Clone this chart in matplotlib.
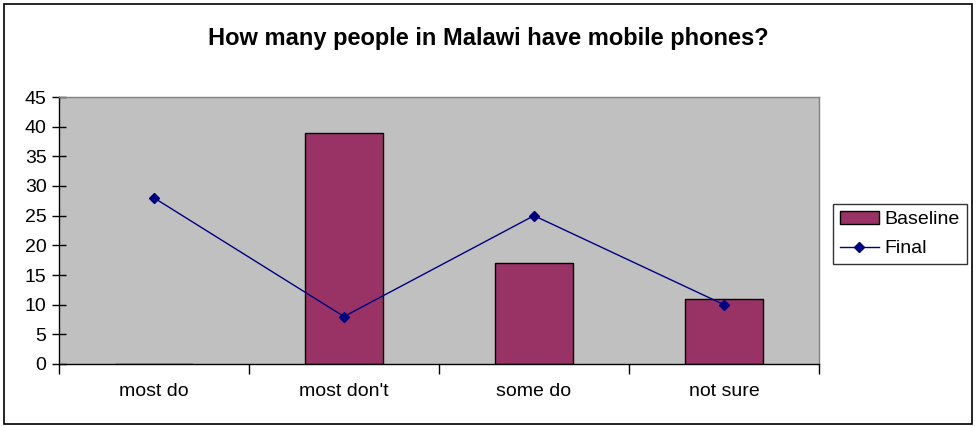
import matplotlib
matplotlib.use("Agg")
import matplotlib.pyplot as plt
from matplotlib.patches import Rectangle
from matplotlib.lines import Line2D
from matplotlib.ticker import FixedLocator, MultipleLocator
import numpy as np

categories = ["most do", "most don't", "some do", "not sure"]
baseline = [0, 39, 17, 11]
final = [28, 8, 25, 10]
title = "How many people in Malawi have mobile phones?"

plt.rcParams['font.family'] = ['Liberation Sans', 'DejaVu Sans']

W, H = 976, 426
fig = plt.figure(figsize=(W / 100, H / 100), dpi=100)

# outer chart border
fig.patches.append(Rectangle((4 / W, 2 / H), 968 / W, 420 / H, transform=fig.transFigure,
                             fill=False, edgecolor='black', linewidth=1.2))

ax = fig.add_axes([59 / W, (H - 364) / H, (819 - 59) / W, (364 - 97) / H])
ax.set_facecolor('#C0C0C0')

x = np.arange(len(categories))
ax.bar(x, baseline, width=0.41, color='#993366', edgecolor='black', linewidth=1.0,
       label='Baseline', zorder=2)
ax.plot(x, final, color='#000080', linewidth=1.0, marker='D', markersize=5.5,
        label='Final', zorder=3)

ax.set_xlim(-0.5, len(categories) - 0.5)
ax.set_ylim(0, 45)
ax.yaxis.set_major_locator(MultipleLocator(5))
ax.set_xticks(x)
ax.set_xticklabels(categories)
ax.xaxis.set_minor_locator(FixedLocator(np.arange(-0.5, len(categories), 1.0)))
ax.tick_params(axis='x', which='major', length=0, pad=14, labelsize=14)
ax.tick_params(axis='x', which='minor', length=7, width=1.0, direction='out')
ax.tick_params(axis='y', which='major', length=10, width=1.0, direction='inout',
               pad=4, labelsize=14)

for side in ('top', 'right'):
    ax.spines[side].set_color('#808080')
    ax.spines[side].set_linewidth(1.0)
for side in ('left', 'bottom'):
    ax.spines[side].set_color('black')
    ax.spines[side].set_linewidth(1.0)

fig.text(488 / W, 1 - 38 / H, title, ha='center', va='center', fontsize=17,
         fontweight='bold')

handles = [Rectangle((0, 0), 1, 1, facecolor='#993366', edgecolor='black', linewidth=1.0),
           Line2D([], [], color='#000080', linewidth=1.0, marker='D', markersize=5.5)]
leg = fig.legend(handles, ['Baseline', 'Final'], loc='center',
                 bbox_to_anchor=(900 / W, 1 - 234 / H), frameon=True, fancybox=False,
                 edgecolor='black', fontsize=14, handlelength=2.0, handletextpad=0.3,
                 borderpad=0.35, labelspacing=0.6, borderaxespad=0)
leg.get_frame().set_linewidth(1.0)

fig.savefig('out.png', dpi=100)
